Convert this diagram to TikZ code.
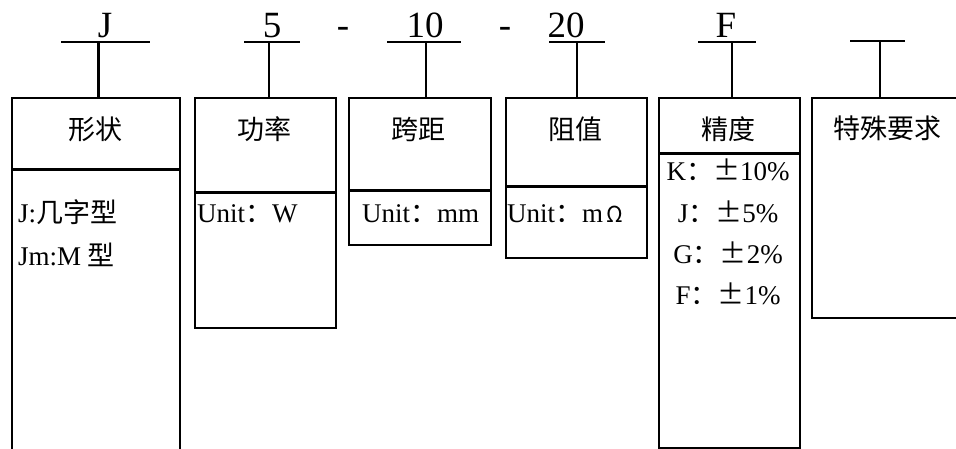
\documentclass[tikz,border=0pt]{standalone}
\usepackage{fontspec}
\setmainfont{Liberation Serif}
\newfontfamily\cjk{Noto Sans CJK SC}
\begin{document}
\begin{tikzpicture}[x=1pt,y=-1pt,
  box/.style={draw,line width=1.6pt,inner sep=0pt,anchor=north west},
  divider/.style={line width=3pt},
  uline/.style={line width=1.5pt},
  stem/.style={line width=1.5pt},
  code/.style={font=\fontsize{37}{40}\selectfont,anchor=base,inner sep=0pt},
  head/.style={font=\fontsize{27}{30}\cjk,anchor=center,inner sep=0pt},
  body/.style={font=\fontsize{27}{30}\selectfont,anchor=base west,inner sep=0pt},
  bodyc/.style={font=\fontsize{27}{30}\selectfont,anchor=base,inner sep=0pt}]
\useasboundingbox (0,0) rectangle (956,448);
\clip (0,0) rectangle (956,448);
% boxes
\node[box,minimum width=168pt,minimum height=380pt] (b1) at (11,97) {};
\node[box,minimum width=141pt,minimum height=230pt] (b2) at (194,97) {};
\node[box,minimum width=142pt,minimum height=147pt] (b3) at (348,97) {};
\node[box,minimum width=141pt,minimum height=160pt] (b4) at (505,97) {};
\node[box,minimum width=141pt,minimum height=350pt] (b5) at (658,97) {};
\node[box,minimum width=170pt,minimum height=220pt] (b6) at (811,97) {};
% dividers
\coordinate (d1) at (0,169); \draw[divider] (b1.west |- d1) -- (b1.east |- d1);
\coordinate (d2) at (0,192); \draw[divider] (b2.west |- d2) -- (b2.east |- d2);
\coordinate (d3) at (0,190); \draw[divider] (b3.west |- d3) -- (b3.east |- d3);
\coordinate (d4) at (0,186); \draw[divider] (b4.west |- d4) -- (b4.east |- d4);
\coordinate (d5) at (0,153); \draw[divider] (b5.west |- d5) -- (b5.east |- d5);
% code letters
\node[code] (cJ) at (105,37) {J};
\node[code] (c5) at (272,37) {5};
\node[code] (dash1) at (343,37) {-};
\node[code] (c10) at (425,37) {10};
\node[code] (dash2) at (505,37) {-};
\node[code] (c20) at (566,37) {20};
\node[code] (cF) at (726,37) {F};
% underlines
\coordinate (u1a) at (61,42); \coordinate (u1b) at (150,42);
\coordinate (u2a) at (244,42); \coordinate (u2b) at (300,42);
\coordinate (u3a) at (387,42); \coordinate (u3b) at (461,42);
\coordinate (u4a) at (549,42); \coordinate (u4b) at (605,42);
\coordinate (u5a) at (698,42); \coordinate (u5b) at (756,42);
\coordinate (u6a) at (850,41); \coordinate (u6b) at (905,41);
\foreach \i in {1,...,6} {\draw[uline] (u\i a) -- (u\i b);}
% stems
\coordinate (s1) at (98,42);  \draw[stem,line width=3pt] (s1) -- (s1 |- b1.north);
\coordinate (s2) at (269,42); \draw[stem] (s2) -- (s2 |- b2.north);
\coordinate (s3) at (426,42); \draw[stem] (s3) -- (s3 |- b3.north);
\coordinate (s4) at (577,42); \draw[stem] (s4) -- (s4 |- b4.north);
\coordinate (s5) at (732,42); \draw[stem] (s5) -- (s5 |- b5.north);
\coordinate (s6) at (880,41); \draw[stem] (s6) -- (s6 |- b6.north);
% headers
\node[head] (h1) at (95,129) {形状};
\node[head] (h2) at (264,129) {功率};
\node[head] (h3) at (418,129) {跨距};
\node[head] (h4) at (575,129) {阻值};
\node[head] (h5) at (728,129) {精度};
\node[head] (h6) at (887,128) {特殊要求};
% body texts
\node[body] (t1a) at (18,222) {J:{\cjk 几字型}};
\node[body] (t1b) at (18,265) {Jm:M {\cjk 型}};
\node[body] (t2) at (197,222) {Unit{\cjk ：}W};
\node[body] (t3) at (362,222) {Unit{\cjk ：}mm};
\node[body] (t4) at (507,222) {Unit{\cjk ：}m\kern3pt{\cjk\fontsize{22}{24}\selectfont Ω}};
\node[bodyc] (k1) at (728,180) {K{\cjk ：±}10\%};
\node[bodyc] (k2) at (728,222) {J{\cjk ：±}5\%};
\node[bodyc] (k3) at (728,263) {G{\cjk ：±}2\%};
\node[bodyc] (k4) at (728,304) {F{\cjk ：±}1\%};
\end{tikzpicture}
\end{document}
